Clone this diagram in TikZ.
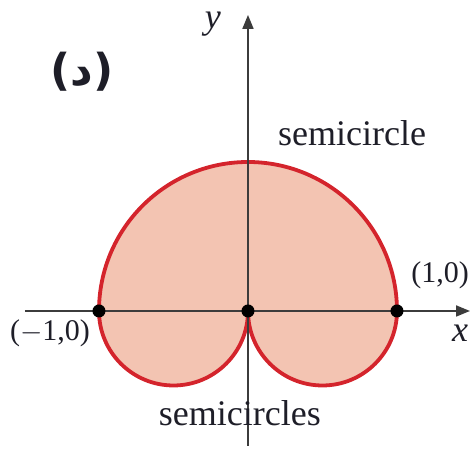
\documentclass[tikz,border=0pt]{standalone}
\usepackage{fontspec}
\setmainfont{Liberation Serif}
\newfontfamily\arabicfont[Script=Arabic]{DejaVu Sans}
\usetikzlibrary{arrows.meta}
\definecolor{regionfill}{RGB}{243,196,178}
\definecolor{curvered}{RGB}{212,36,44}
\definecolor{axisgray}{RGB}{60,60,60}
\definecolor{labelink}{RGB}{30,30,40}
\tikzset{
  axisline/.style={draw=axisgray, line width=0.9pt, -{Triangle[length=7pt,width=5.5pt]}},
  curveline/.style={draw=curvered, line width=1.9pt, line join=round},
  ptdot/.style={circle, fill=black, inner sep=0pt, minimum size=6.5pt},
  lbl/.style={text=labelink, inner sep=0pt},
}
\begin{document}
\begin{tikzpicture}[x=74.5pt,y=74.5pt]
\useasboundingbox (-1.6644,-0.9866) rectangle (1.5034,2.0872);
% region
\fill[regionfill] (-1,0) arc[start angle=180,end angle=0,radius=1]
  arc[start angle=0,end angle=-180,radius=0.5]
  arc[start angle=0,end angle=-180,radius=0.5] -- cycle;
\draw[curveline] (-1,0) arc[start angle=180,end angle=0,radius=1]
  arc[start angle=0,end angle=-180,radius=0.5]
  arc[start angle=0,end angle=-180,radius=0.5] -- cycle;
% axes
\coordinate (xs) at (-1.497,0);
\coordinate (xe) at (1.49,0);
\coordinate (ys) at (0,-0.906);
\coordinate (ye) at (0,1.987);
\draw[axisline] (xs) -- (xe);
\draw[axisline] (ys) -- (ye);
% points
\node[ptdot] (pm) at (-1,0) {};
\node[ptdot] (po) at (0,0) {};
\node[ptdot] (pp) at (1,0) {};
% labels
\node[lbl, font=\fontsize{18}{20}\selectfont\itshape] (ylab) at (-0.235,1.925) {y};
\node[lbl, font=\fontsize{18}{20}\selectfont\itshape] (xlab) at (1.423,-0.148) {x};
\node[lbl, font=\fontsize{18}{20}\selectfont] (semi) at (0.698,1.195) {semicircle};
\node[lbl, font=\fontsize{18}{20}\selectfont] (semis) at (-0.054,-0.685) {semicircles};
\node[lbl, font=\fontsize{15}{17}\selectfont] (lp) at (1.289,0.242) {(1,0)};
\node[lbl, font=\fontsize{15}{17}\selectfont] (lm) at (-1.329,-0.148) {($-$1,0)};
\node[lbl, font=\fontsize{22}{26}\selectfont\arabicfont\bfseries] (tag) at (-1.114,1.604) {(د)};
\end{tikzpicture}
\end{document}
